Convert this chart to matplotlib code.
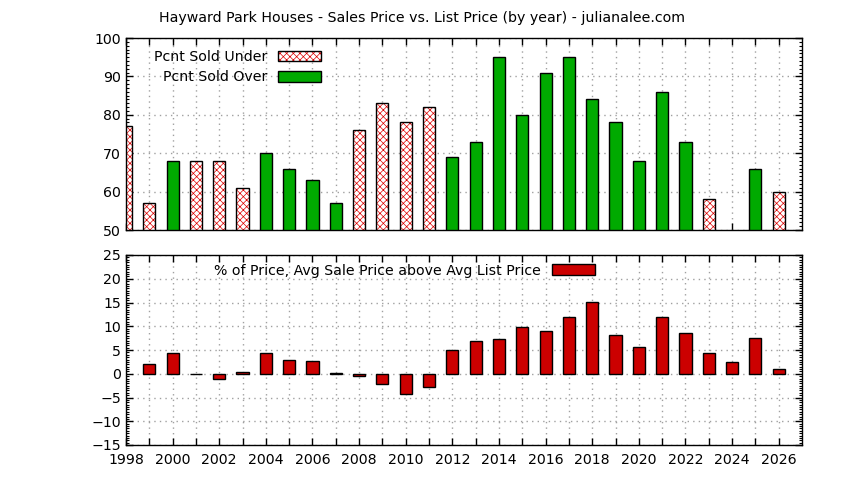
import matplotlib
matplotlib.use("Agg")
import matplotlib.pyplot as plt
from matplotlib.patches import Patch
import numpy as np

nan = np.nan
years = np.arange(1998, 2027)

# top panel: percent of houses sold under / over list price
pct_under = [77, 57, nan, 68, 68, 61, nan, nan, nan, nan, 76, 83, 78, 82,
             nan, nan, nan, nan, nan, nan, nan, nan, nan, nan, nan, 58, nan, nan, 60]
pct_over = [nan, nan, 68, nan, nan, nan, 70, 66, 63, 57, nan, nan, nan, nan,
            69, 73, 95, 80, 91, 95, 84, 78, 68, 86, 73, nan, nan, 66, nan]

# bottom panel: avg sale price above avg list price (%)
pct_above = [nan, 2.0, 4.3, 0.05, -1.2, 0.4, 4.4, 2.8, 2.6, 0.2, -0.5, -2.2, -4.3, -2.8,
             5.0, 6.8, 7.4, 9.75, 9.1, 11.85, 15.2, 8.1, 5.55, 12.05, 8.5, 4.3, 2.4, 7.45, 0.95]

green = "#00aa00"
red = "#dd0000"
fs = 10.2
plt.rcParams["hatch.linewidth"] = 0.5

fig = plt.figure(figsize=(8.44, 4.80), dpi=100)
ax1 = fig.add_axes([126/844, 1-230/480, 676/844, 192/480])
ax2 = fig.add_axes([126/844, 1-445/480, 676/844, 190/480])

w = 0.52
# hatched bars: red crosshatch, then black outline on top
ax1.bar(years, pct_under, w, color="white", edgecolor=red, hatch="xxxxx", linewidth=0, zorder=2)
ax1.bar(years, pct_under, w, fill=False, edgecolor="black", linewidth=1, zorder=3)
ax1.bar(years, pct_over, w, color=green, edgecolor="black", linewidth=1, zorder=3)

h_under = (Patch(facecolor="white", edgecolor=red, hatch="xxxxx", linewidth=0),
           Patch(fill=False, edgecolor="black", linewidth=1))
h_over = Patch(facecolor=green, edgecolor="black", linewidth=1)
ax1.legend([h_under, h_over], ["Pcnt Sold Under", "Pcnt Sold Over"], loc="upper left",
           bbox_to_anchor=(0.023, 1.0), markerfirst=False, frameon=False, fontsize=fs,
           handlelength=3.0, handleheight=0.75, labelspacing=0.45, handletextpad=0.8,
           borderaxespad=0.45)

ax2.bar(years, pct_above, w, color="#cc0000", edgecolor="black", linewidth=1, zorder=3)
ax2.legend([Patch(facecolor="#cc0000", edgecolor="black", linewidth=1)],
           ["% of Price, Avg Sale Price above Avg List Price"], loc="upper left",
           bbox_to_anchor=(0.118, 1.0), markerfirst=False, frameon=False, fontsize=fs,
           handlelength=3.0, handleheight=0.75, handletextpad=0.8, borderaxespad=0.2)

ax1.set_ylim(50, 100)
ax1.set_yticks(np.arange(50, 101, 10))
ax1.set_yticks(np.arange(50, 101, 1), minor=True)
ax2.set_ylim(-15, 25)
ax2.set_yticks(np.arange(-15, 26, 5))
ax2.set_yticks(np.arange(-15, 25.1, 0.5), minor=True)

labels = [str(y) if y % 2 == 0 else "" for y in years]
for ax in (ax1, ax2):
    ax.set_xlim(1998, 2027)
    ax.set_xticks(years)
    ax.grid(True, which="major", color="#a0a0a0", linestyle=(0, (1, 3)), linewidth=1, zorder=0)
    ax.set_axisbelow(True)
    ax.tick_params(which="major", direction="in", top=True, right=True, length=5,
                   width=1, labelsize=fs, colors="black")
    ax.tick_params(which="minor", direction="in", left=True, right=True, length=2.5, width=0.8)
    ax.tick_params(axis="x", which="minor", bottom=False, top=False)
    for s in ax.spines.values():
        s.set_linewidth(1)
        s.set_zorder(5)

ax1.set_xticklabels([])
ax2.set_xticklabels(labels)
ax2.tick_params(axis="x", pad=6)

fig.text(422/844, 1-18/480, "Hayward Park Houses - Sales Price vs. List Price (by year) - julianalee.com",
         ha="center", va="center", fontsize=fs)

fig.savefig("out.png", dpi=100)
